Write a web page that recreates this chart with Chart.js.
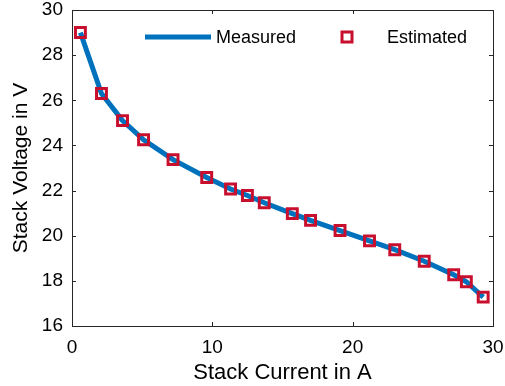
<!DOCTYPE html>
<html>
<head>
<meta charset="utf-8">
<script src="https://cdn.jsdelivr.net/npm/chart.js@4.4.1/dist/chart.umd.min.js"></script>
<style>
  html, body { margin: 0; padding: 0; background: #fff; }
  #wrap { width: 505px; height: 386px; }
</style>
</head>
<body>
<div id="wrap"><canvas id="stackChart" width="505" height="386"></canvas></div>
<script>
// Stack current (A) and stack voltage (V)
const stackCurrent = [0.6, 2.1, 3.6, 5.1, 7.2, 9.6, 11.3, 12.5, 13.7, 15.7, 17.0, 19.1, 21.2, 23.0, 25.1, 27.2, 28.1, 29.3];
const measuredVoltage = [29.0, 26.3, 25.1, 24.25, 23.37, 22.58, 22.07, 21.78, 21.46, 20.98, 20.68, 20.23, 19.77, 19.38, 18.87, 18.27, 17.96, 17.28];
const estimatedVoltage = [29.0, 26.3, 25.1, 24.25, 23.37, 22.58, 22.07, 21.78, 21.46, 20.98, 20.68, 20.23, 19.77, 19.38, 18.87, 18.27, 17.96, 17.28];
const xTicks = [0, 10, 20, 30];
const yTicks = [16, 18, 20, 22, 24, 26, 28, 30];

const axisColor = "#262626";
const lineBlue = "#0072BD";
const markRed = "#C8102E";
const fontFam = "'Liberation Sans', Arial, sans-serif";

const toPoints = (ys) => stackCurrent.map((x, i) => ({ x: x, y: ys[i] }));

// MATLAB style box with inward ticks plus an inside legend
const boxPlugin = {
  id: "boxPlugin",
  afterDraw(chart) {
    const { ctx, chartArea: a, scales } = chart;
    ctx.save();
    ctx.strokeStyle = axisColor;
    ctx.lineWidth = 1;
    ctx.strokeRect(Math.round(a.left) + 0.5, Math.round(a.top) + 0.5,
      Math.round(a.right - a.left), Math.round(a.bottom - a.top));
    ctx.beginPath();
    xTicks.forEach((v) => {
      const px = Math.round(scales.x.getPixelForValue(v)) + 0.5;
      ctx.moveTo(px, a.bottom); ctx.lineTo(px, a.bottom - 4);
      ctx.moveTo(px, a.top); ctx.lineTo(px, a.top + 4);
    });
    yTicks.forEach((v) => {
      const py = Math.round(scales.y.getPixelForValue(v)) + 0.5;
      ctx.moveTo(a.left, py); ctx.lineTo(a.left + 4, py);
      ctx.moveTo(a.right, py); ctx.lineTo(a.right - 4, py);
    });
    ctx.stroke();

    // legend
    const ly = 37;
    ctx.strokeStyle = lineBlue;
    ctx.lineWidth = 5;
    ctx.beginPath();
    ctx.moveTo(145, ly); ctx.lineTo(211, ly);
    ctx.stroke();
    ctx.strokeStyle = markRed;
    ctx.lineWidth = 3;
    ctx.strokeRect(342, ly - 5, 10, 10);
    ctx.fillStyle = "#000";
    ctx.font = "18px " + fontFam;
    ctx.textBaseline = "middle";
    ctx.textAlign = "left";
    ctx.fillText(chart.data.datasets[0].label, 216, ly + 1);
    ctx.fillText(chart.data.datasets[1].label, 387, ly + 1);
    ctx.restore();
  }
};

new Chart(document.getElementById("stackChart"), {
  type: "scatter",
  data: {
    datasets: [
      {
        label: "Measured",
        data: toPoints(measuredVoltage),
        showLine: true,
        borderColor: lineBlue,
        borderWidth: 5,
        pointRadius: 0,
        tension: 0,
        order: 2
      },
      {
        label: "Estimated",
        data: toPoints(estimatedVoltage),
        showLine: false,
        pointStyle: "rect",
        pointRadius: 7,
        pointBorderWidth: 3,
        pointBorderColor: markRed,
        pointBackgroundColor: "rgba(0,0,0,0)",
        order: 1
      }
    ]
  },
  options: {
    responsive: false,
    animation: false,
    layout: { padding: { top: 8, right: 12, left: 0, bottom: 0 } },
    plugins: {
      legend: { display: false },
      tooltip: { enabled: false }
    },
    scales: {
      x: {
        type: "linear",
        min: 0,
        max: 30,
        afterFit: (s) => { s.height = 60; s.paddingLeft = 0; s.paddingRight = 0; },
        afterBuildTicks: (s) => { s.ticks = xTicks.map((v) => ({ value: v })); },
        grid: { display: false, drawTicks: false },
        border: { display: false },
        ticks: { color: "#000", font: { family: fontFam, size: 19 }, padding: 10, maxRotation: 0 },
        title: { display: true, text: "Stack Current in A", color: "#000", font: { family: fontFam, size: 22 }, padding: { top: 0, bottom: 0 } }
      },
      y: {
        min: 16,
        max: 30,
        afterFit: (s) => { s.width = 72; s.paddingTop = 0; s.paddingBottom = 0; },
        afterBuildTicks: (s) => { s.ticks = yTicks.map((v) => ({ value: v })); },
        grid: { display: false, drawTicks: false },
        border: { display: false },
        ticks: { color: "#000", font: { family: fontFam, size: 19 }, padding: 9 },
        title: { display: true, text: "Stack Voltage in V", color: "#000", font: { family: fontFam, size: 21 }, padding: { top: 9, bottom: 0 } }
      }
    }
  },
  plugins: [boxPlugin]
});
</script>
</body>
</html>
